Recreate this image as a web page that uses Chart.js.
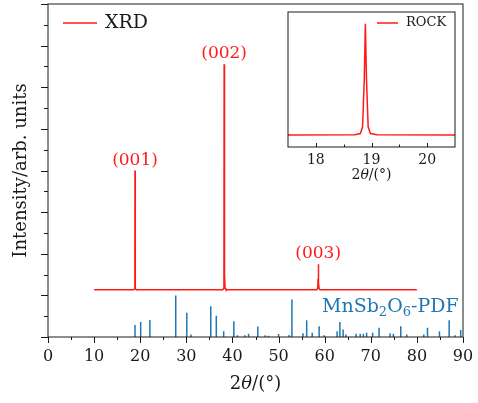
<!DOCTYPE html>
<html>
<head>
<meta charset="utf-8">
<script src="https://cdn.jsdelivr.net/npm/chart.js@4.4.1/dist/chart.umd.min.js"></script>
<style>
  html, body { margin: 0; padding: 0; background: #fff; }
  #wrap { position: relative; width: 478px; height: 403px; }
  #main { position: absolute; left: 0; top: 0; }
  #inset { position: absolute; left: 278px; top: 8px; }
</style>
</head>
<body>
<div id="wrap">
  <canvas id="main" width="478" height="403"></canvas>
  <canvas id="inset" width="184" height="185"></canvas>
</div>
<script>
// XRD pattern (2theta, intensity in arb. units)
const xrdAngles = [10, 18.6, 18.78, 18.84, 18.87, 18.9, 18.96, 19.15,
  37.9, 38.1, 38.16, 38.2, 38.24, 38.28, 38.32, 38.4, 38.6,
  58.3, 58.5, 58.56, 58.6, 58.64, 58.68, 58.72, 58.8, 59.0, 80];
const xrdValues = [1.135, 1.135, 1.16, 1.4, 4.0, 1.4, 1.16, 1.135,
  1.135, 1.17, 1.5, 6.55, 3.2, 5.35, 1.5, 1.17, 1.135,
  1.135, 1.17, 1.4, 1.75, 1.45, 1.6, 1.3, 1.16, 1.135, 1.135];

// MnSb2O6 reference lines (2theta, relative intensity)
const pdfAngles = [18.87, 20.1, 22.1, 27.7, 30.1, 31.0, 35.3, 36.5, 38.1, 40.3,
  41.1, 42.7, 43.5, 45.5, 47.1, 47.8, 50.0, 52.3, 52.9, 55.3,
  56.1, 57.3, 58.8, 59.9, 62.7, 63.3, 64.0, 64.6, 66.8, 67.7,
  68.4, 69.1, 70.4, 71.8, 74.2, 74.9, 76.5, 77.8, 81.5, 82.3,
  84.9, 87.0, 88.3, 89.5];
const pdfIntensities = [0.29, 0.36, 0.41, 1.0, 0.58, 0.06, 0.74, 0.51, 0.14, 0.38,
  0.04, 0.04, 0.08, 0.25, 0.04, 0.03, 0.07, 0.05, 0.9, 0.09,
  0.4, 0.1, 0.26, 0.04, 0.14, 0.36, 0.18, 0.06, 0.08, 0.08,
  0.08, 0.1, 0.1, 0.22, 0.09, 0.08, 0.26, 0.06, 0.06, 0.22,
  0.14, 0.4, 0.04, 0.17];

// peak labels
const peakNames = ['(001)', '(002)', '(003)'];
const peakAngles = [18.87, 38.2, 58.6];
const peakHeights = [4.0, 6.55, 1.75];

// rocking curve (inset)
const rockAngles = [17.5, 18.7, 18.8, 18.84, 18.87, 18.89, 18.91, 18.94, 18.98, 19.1, 20.5];
const rockValues = [0.089, 0.09, 0.1, 0.15, 0.5, 0.913, 0.5, 0.15, 0.1, 0.09, 0.089];

const mainXTicks = [0, 10, 20, 30, 40, 50, 60, 70, 80, 90];
const insetXTicks = [18, 19, 20];

const SERIF = '"DejaVu Serif", "Liberation Serif", serif';
const RED = '#ff1a1a';
const BLUE = '#1f77b4';
const INK = '#1a1a1a';

function drawRich(ctx, parts, cx, cy, size) {
  // parts: [text, italic]
  let w = 0;
  parts.forEach(p => {
    ctx.font = (p[1] ? 'italic ' : '') + size + 'px ' + SERIF;
    w += ctx.measureText(p[0]).width;
  });
  let x = cx - w / 2;
  ctx.textBaseline = 'middle';
  ctx.textAlign = 'left';
  parts.forEach(p => {
    ctx.font = (p[1] ? 'italic ' : '') + size + 'px ' + SERIF;
    ctx.fillText(p[0], x, cy);
    x += ctx.measureText(p[0]).width;
  });
}

const mainDecor = {
  id: 'mainDecor',
  afterDraw(chart) {
    const ctx = chart.ctx;
    const a = chart.chartArea;
    const xs = chart.scales.x, ys = chart.scales.y;
    ctx.save();
    ctx.strokeStyle = INK;
    ctx.lineWidth = 1;
    ctx.strokeRect(a.left, a.top, a.right - a.left, a.bottom - a.top);
    ctx.beginPath();
    for (let v = 0; v <= 90; v += 5) {
      const px = Math.round(xs.getPixelForValue(v)) + 0.5;
      ctx.moveTo(px, a.bottom);
      ctx.lineTo(px, a.bottom + (v % 10 === 0 ? 6 : 3));
    }
    for (let v = 0; v <= 8; v += 0.5) {
      const py = Math.round(ys.getPixelForValue(v)) + 0.5;
      ctx.moveTo(a.left, py);
      ctx.lineTo(a.left - (v % 1 === 0 ? 7 : 4), py);
    }
    ctx.stroke();

    // peak labels
    ctx.fillStyle = RED;
    ctx.font = '17px ' + SERIF;
    ctx.textAlign = 'center';
    ctx.textBaseline = 'alphabetic';
    peakNames.forEach((n, i) => {
      ctx.fillText(n, xs.getPixelForValue(peakAngles[i]), ys.getPixelForValue(peakHeights[i]) - 6);
    });

    // legend
    ctx.strokeStyle = RED;
    ctx.lineWidth = 1.5;
    ctx.beginPath();
    ctx.moveTo(a.left + 15, a.top + 19);
    ctx.lineTo(a.left + 49, a.top + 19);
    ctx.stroke();
    ctx.fillStyle = INK;
    ctx.textAlign = 'left';
    ctx.textBaseline = 'middle';
    ctx.font = '19px ' + SERIF;
    ctx.fillText('XRD', a.left + 57, a.top + 19);

    // PDF label with subscripts
    ctx.fillStyle = BLUE;
    const segs = [['MnSb', 0], ['2', 1], ['O', 0], ['6', 1], ['-PDF', 0]];
    let x = 322;
    const base = 312;
    segs.forEach(s => {
      ctx.font = (s[1] ? 13 : 19) + 'px ' + SERIF;
      ctx.textBaseline = 'alphabetic';
      ctx.fillText(s[0], x, base + (s[1] ? 4 : 0));
      x += ctx.measureText(s[0]).width;
    });

    // x title
    ctx.fillStyle = INK;
    drawRich(ctx, [['2', false], ['θ', true], ['/(°)', false]], (a.left + a.right) / 2, 384, 18);
    ctx.restore();
  }
};

const pdfPoints = [];
pdfAngles.forEach((x, i) => {
  pdfPoints.push({ x: x, y: 0 }, { x: x, y: pdfIntensities[i] }, { x: x, y: null });
});

new Chart(document.getElementById('main'), {
  type: 'line',
  data: {
    datasets: [
      {
        label: 'XRD',
        data: xrdAngles.map((x, i) => ({ x: x, y: xrdValues[i] })),
        borderColor: RED,
        borderWidth: 1.5,
        pointRadius: 0,
        tension: 0
      },
      {
        label: 'MnSb2O6-PDF',
        data: pdfPoints,
        borderColor: BLUE,
        borderWidth: 1.5,
        pointRadius: 0,
        spanGaps: false
      }
    ]
  },
  options: {
    responsive: false,
    animation: false,
    events: [],
    layout: { padding: { top: 4, right: 15, left: 0, bottom: 0 } },
    plugins: { legend: { display: false }, tooltip: { enabled: false } },
    scales: {
      x: {
        type: 'linear', min: 0, max: 90,
        afterBuildTicks: s => { s.ticks = mainXTicks.map(v => ({ value: v })); },
        ticks: { padding: 10, color: INK, font: { family: SERIF, size: 16 }, maxRotation: 0, autoSkip: false },
        grid: { display: false, drawTicks: false },
        border: { display: false },
        afterFit: s => { s.height = 66; s.paddingLeft = 0; s.paddingRight = 0; }
      },
      y: {
        min: 0, max: 8,
        ticks: { display: false },
        grid: { display: false, drawTicks: false },
        border: { display: false },
        title: { display: true, text: 'Intensity/arb. units', color: INK, font: { family: SERIF, size: 18 }, padding: { top: 11, bottom: 0 } },
        afterFit: s => { s.width = 48; s.paddingTop = 0; s.paddingBottom = 0; }
      }
    }
  },
  plugins: [mainDecor]
});

const insetDecor = {
  id: 'insetDecor',
  afterDraw(chart) {
    const ctx = chart.ctx;
    const a = chart.chartArea;
    const xs = chart.scales.x;
    ctx.save();
    ctx.strokeStyle = INK;
    ctx.lineWidth = 1;
    ctx.strokeRect(a.left, a.top, a.right - a.left, a.bottom - a.top);
    ctx.beginPath();
    for (let v = 18; v <= 20; v += 0.5) {
      const px = Math.round(xs.getPixelForValue(v)) + 0.5;
      ctx.moveTo(px, a.bottom);
      ctx.lineTo(px, a.bottom - (v % 1 === 0 ? 4 : 2.5));
    }
    ctx.stroke();

    ctx.strokeStyle = RED;
    ctx.lineWidth = 1.5;
    ctx.beginPath();
    ctx.moveTo(a.left + 89, a.top + 11);
    ctx.lineTo(a.left + 110, a.top + 11);
    ctx.stroke();
    ctx.fillStyle = INK;
    ctx.font = '13px ' + SERIF;
    ctx.textAlign = 'left';
    ctx.textBaseline = 'middle';
    ctx.fillText('ROCK', a.left + 118, a.top + 11);

    drawRich(ctx, [['2', false], ['θ', true], ['/(°)', false]], (a.left + a.right) / 2, 167, 14);
    ctx.restore();
  }
};

new Chart(document.getElementById('inset'), {
  type: 'line',
  data: {
    datasets: [{
      label: 'ROCK',
      data: rockAngles.map((x, i) => ({ x: x, y: rockValues[i] })),
      borderColor: RED,
      borderWidth: 1.5,
      pointRadius: 0,
      tension: 0
    }]
  },
  options: {
    responsive: false,
    animation: false,
    events: [],
    layout: { padding: { top: 4, right: 7, left: 10, bottom: 0 } },
    plugins: { legend: { display: false }, tooltip: { enabled: false } },
    scales: {
      x: {
        type: 'linear', min: 17.5, max: 20.5,
        afterBuildTicks: s => { s.ticks = insetXTicks.map(v => ({ value: v })); },
        ticks: { padding: 5, color: INK, font: { family: SERIF, size: 14 }, maxRotation: 0, autoSkip: false },
        grid: { display: false, drawTicks: false },
        border: { display: false },
        afterFit: s => { s.height = 46; s.paddingLeft = 0; s.paddingRight = 0; }
      },
      y: { display: false, min: 0, max: 1 }
    }
  },
  plugins: [insetDecor]
});
</script>
</body>
</html>
